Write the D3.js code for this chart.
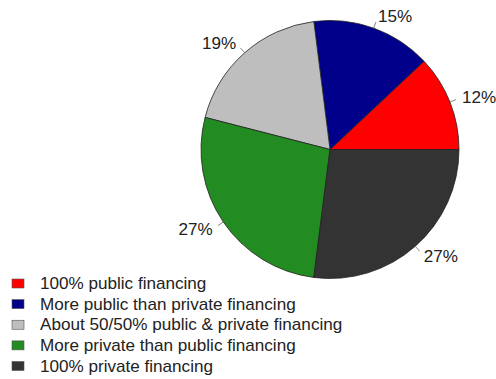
<!DOCTYPE html>
<html>
<head>
<meta charset="utf-8">
<script src="https://cdn.jsdelivr.net/npm/d3@7"></script>
<style>
  html, body { margin: 0; padding: 0; background: #fff; }
  svg { display: block; font-family: "Liberation Sans", Arial, sans-serif; }
</style>
</head>
<body>
<svg id="chart" width="496" height="379"></svg>
<script>
// Financing categories and their shares (%)
const categories = [
  "100% public financing",
  "More public than private financing",
  "About 50/50% public & private financing",
  "More private than public financing",
  "100% private financing"
];
const shares = [12, 15, 19, 27, 27];
const colors = ["#ff0000", "#00008b", "#bebebe", "#228b22", "#333333"];

const svg = d3.select("#chart");
const cx = 330, cy = 149.5, radius = 129;
const fontSize = 16, stretch = 1.07;

// Slices run counter-clockwise starting at 3 o'clock
const pie = d3.pie().sort(null).value(d => d)
  .startAngle(Math.PI / 2).endAngle(Math.PI / 2 - 2 * Math.PI);
const arcs = pie(shares);
const arc = d3.arc().innerRadius(0).outerRadius(radius);

const g = svg.append("g").attr("transform", `translate(${cx},${cy})`);

g.selectAll("path.slice")
  .data(arcs)
  .join("path")
  .attr("class", "slice")
  .attr("d", arc)
  .attr("fill", (d, i) => colors[i])
  .attr("stroke", "#222")
  .attr("stroke-width", 0.8);

// Text placed at (x, y), slightly widened
function label(parent, x, y, anchor, str) {
  parent.append("text")
    .attr("transform", `translate(${x},${y}) scale(${stretch},1)`)
    .attr("dy", "0.35em")
    .attr("text-anchor", anchor)
    .attr("font-size", fontSize)
    .attr("fill", "#222")
    .text(str);
}

// Percentage labels with short leader ticks
const total = d3.sum(shares);
arcs.forEach((d, i) => {
  const mid = (d.startAngle + d.endAngle) / 2; // d3 angle: 0 = 12 o'clock, clockwise
  const sx = Math.sin(mid), sy = -Math.cos(mid);
  g.append("line")
    .attr("x1", sx * radius).attr("y1", sy * radius)
    .attr("x2", sx * radius * 1.05).attr("y2", sy * radius * 1.05)
    .attr("stroke", "#666").attr("stroke-width", 0.8);
  label(g, sx * radius * 1.1, sy * radius * 1.1, sx >= 0 ? "start" : "end",
        Math.round(shares[i] / total * 100) + "%");
});

// Legend
const legendY = d3.scalePoint().domain(d3.range(categories.length)).range([283.5, 366]);
const legend = svg.append("g");
categories.forEach((c, i) => {
  const y = legendY(i);
  legend.append("rect")
    .attr("x", 12).attr("y", y - 4.5)
    .attr("width", 12).attr("height", 9)
    .attr("fill", colors[i])
    .attr("stroke", "#555").attr("stroke-width", 0.6);
  label(legend, 40, y, "start", c);
});
</script>
</body>
</html>
